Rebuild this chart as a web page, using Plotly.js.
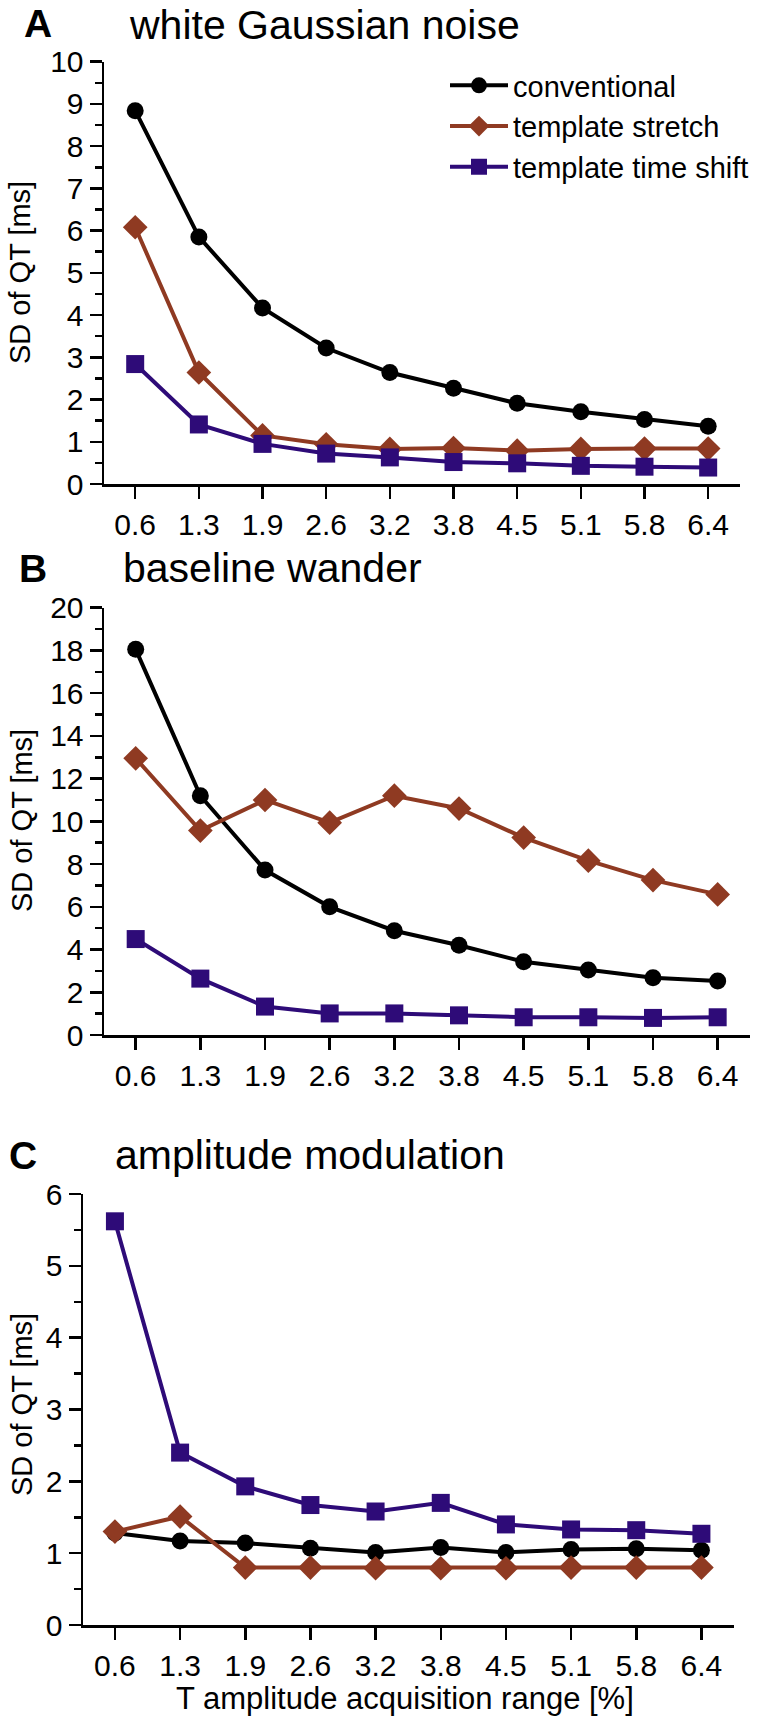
<!DOCTYPE html>
<html>
<head>
<meta charset="utf-8">
<script src="https://cdn.plot.ly/plotly-3.0.1.min.js"></script>
<style>html,body{margin:0;padding:0;background:#fff;}#chart{width:764px;height:1724px;}</style>
</head>
<body>
<div id="chart"></div>
<script>
const categories = ["0.6","1.3","1.9","2.6","3.2","3.8","4.5","5.1","5.8","6.4"];
const seriesNames = ["conventional","template stretch","template time shift"];

const A_conventional = [8.84,5.85,4.17,3.22,2.64,2.27,1.91,1.71,1.53,1.37];
const A_stretch      = [6.08,2.64,1.15,0.94,0.83,0.85,0.79,0.83,0.84,0.84];
const A_shift        = [2.84,1.41,0.95,0.72,0.63,0.52,0.49,0.43,0.41,0.39];

const B_conventional = [18.05,11.2,7.72,6.0,4.88,4.2,3.43,3.04,2.68,2.53];
const B_stretch      = [12.95,9.57,11.0,9.94,11.2,10.6,9.24,8.16,7.25,6.58];
const B_shift        = [4.49,2.64,1.33,1.01,1.01,0.92,0.83,0.83,0.80,0.83];

const C_conventional = [1.28,1.17,1.14,1.07,1.01,1.08,1.01,1.05,1.06,1.04];
const C_stretch      = [1.30,1.51,0.80,0.80,0.79,0.79,0.79,0.80,0.80,0.80];
const C_shift        = [5.62,2.40,1.93,1.67,1.58,1.70,1.40,1.33,1.32,1.27];

const panelLetters = ["A","B","C"];
const panelTitles = ["white Gaussian noise","baseline wander","amplitude modulation"];
const yTitle = "SD of QT [ms]";
const xTitle = "T amplitude acquisition range [%]";

const FONT = "Liberation Sans, Arial, Helvetica, sans-serif";
const colors = ["#000000","#8f3a22","#2e0b78"];
const symbols = ["circle","diamond","square"];
const sizes = [17,19,18];

const W = 764, H = 1724;
const px = v => v / W;
const py = v => 1 - v / H;

const panels = [
  {data:[A_conventional,A_stretch,A_shift], xd:[104,740], yd:[61.7,484], range:[0,10], dtick:1, minor:0.5},
  {data:[B_conventional,B_stretch,B_shift], xd:[104,750], yd:[607.7,1035], range:[0,20], dtick:2, minor:1},
  {data:[C_conventional,C_stretch,C_shift], xd:[83,734], yd:[1194,1625], range:[0,6], dtick:1, minor:0.5}
];

const traces = [];
const layout = {
  width: W, height: H,
  margin:{l:0,r:0,t:0,b:0},
  paper_bgcolor:"#fff", plot_bgcolor:"rgba(0,0,0,0)",
  font:{family:FONT, color:"#000", size:30},
  showlegend:true,
  legend:{x:px(445), y:py(60), xanchor:"left", yanchor:"top",
          font:{family:FONT,size:29,color:"#000"}, itemwidth:58,
          bgcolor:"rgba(0,0,0,0)", tracegroupgap:0},
  annotations:[]
};

panels.forEach((p, i) => {
  const n = i + 1;
  const xa = "x" + (n === 1 ? "" : n);
  const ya = "y" + (n === 1 ? "" : n);
  p.data.forEach((vals, k) => {
    traces.push({
      type:"scatter", mode:"lines+markers",
      x:categories, y:vals, xaxis:xa, yaxis:ya,
      name:seriesNames[k], showlegend:i===0,
      line:{color:colors[k], width:4},
      marker:{symbol:symbols[k], size:sizes[k], color:colors[k], line:{width:0}},
      cliponaxis:false
    });
  });
  layout["xaxis" + (n === 1 ? "" : n)] = {
    domain:[px(p.xd[0]), px(p.xd[1])], anchor:ya,
    type:"category", range:[-0.49, 9.5], fixedrange:true,
    showline:true, linecolor:"#000", linewidth:2.5,
    ticks:"outside", ticklen:12, tickwidth:2.5, tickcolor:"#000",
    showgrid:false, zeroline:false,
    tickfont:{family:FONT,size:30,color:"#000"}
  };
  layout["yaxis" + (n === 1 ? "" : n)] = {
    domain:[py(p.yd[1]), py(p.yd[0])], anchor:xa,
    range:p.range, dtick:p.dtick, tick0:0, fixedrange:true,
    showline:true, linecolor:"#000", linewidth:2.5,
    ticks:"outside", ticklen:12, tickwidth:2.5, tickcolor:"#000",
    minor:{dtick:p.minor, tick0:0, ticks:"outside", ticklen:7, tickwidth:2.5, tickcolor:"#000", showgrid:false},
    showgrid:false, zeroline:false,
    tickfont:{family:FONT,size:30,color:"#000"}
  };
});

// [x, y, yanchor]
const letterPos = [[22,0,"top"],[17,568,"middle"],[7,1155,"middle"]];
const titlePos = [[127,0,"top"],[121,568,"middle"],[113,1155,"middle"]];
const yTitlePos = [[20,273],[22,821],[22,1405]];
panels.forEach((p,i) => {
  layout.annotations.push({text:"<b>"+panelLetters[i]+"</b>", xref:"paper", yref:"paper",
    x:px(letterPos[i][0]), y:py(letterPos[i][1]), xanchor:"left", yanchor:letterPos[i][2],
    showarrow:false, font:{family:FONT,size:39,color:"#000"}});
  layout.annotations.push({text:panelTitles[i], xref:"paper", yref:"paper",
    x:px(titlePos[i][0]), y:py(titlePos[i][1]), xanchor:"left", yanchor:titlePos[i][2],
    showarrow:false, font:{family:FONT,size:41,color:"#000"}});
  layout.annotations.push({text:yTitle, xref:"paper", yref:"paper", textangle:-90,
    x:px(yTitlePos[i][0]), y:py(yTitlePos[i][1]), xanchor:"center", yanchor:"middle",
    showarrow:false, font:{family:FONT,size:29,color:"#000"}});
});
layout.annotations.push({text:xTitle, xref:"paper", yref:"paper",
  x:px(405), y:py(1698), xanchor:"center", yanchor:"middle",
  showarrow:false, font:{family:FONT,size:31,color:"#000"}});

Plotly.newPlot("chart", traces, layout, {staticPlot:true, displayModeBar:false});
</script>
</body>
</html>
